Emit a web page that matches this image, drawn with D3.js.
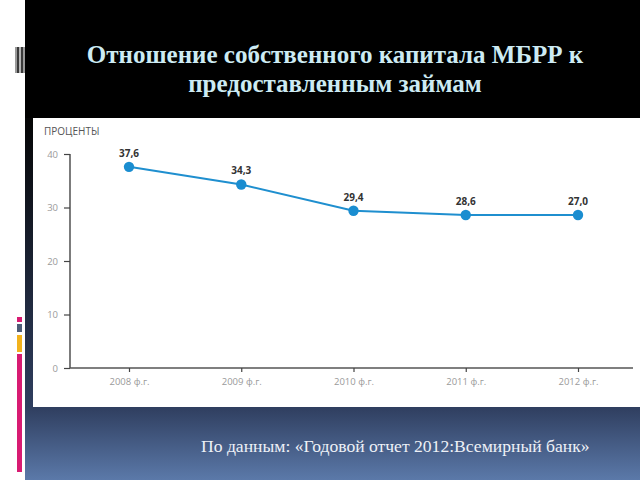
<!DOCTYPE html>
<html>
<head>
<meta charset="utf-8">
<script src="https://cdn.jsdelivr.net/npm/d3@7"></script>
<style>
  body { margin: 0; background: #fff; }
  svg { display: block; }
</style>
</head>
<body>
<div id="viz-container"></div>
<script>
let width = 640;
let height = 480;

// data (the last point is drawn at the 2011 level in the source)
let years = ['2008 ф.г.', '2009 ф.г.', '2010 ф.г.', '2011 ф.г.', '2012 ф.г.'];
let ratio = [37.6, 34.3, 29.4, 28.6, 28.6];
let ratioLabels = ['37,6', '34,3', '29,4', '28,6', '27,0'];
let yTicks = [0, 10, 20, 30, 40];
let titleLines = ['Отношение собственного капитала МБРР к', 'предоставленным займам'];
let sourceText = 'По данным: «Годовой отчет 2012:Всемирный банк»';
let unitText = 'ПРОЦЕНТЫ';

let viz = d3.select('#viz-container')
  .append('svg')
  .attr('width', width)
  .attr('height', height);

let defs = viz.append('defs');
let bottomGrad = defs.append('linearGradient')
  .attr('id', 'bottomGrad').attr('x1', 0).attr('y1', 0).attr('x2', 0).attr('y2', 1);
bottomGrad.append('stop').attr('offset', '0%').attr('stop-color', '#2f3e5f');
bottomGrad.append('stop').attr('offset', '100%').attr('stop-color', '#5b79a9');
let sideGrad = defs.append('linearGradient')
  .attr('id', 'sideGrad').attr('x1', 0).attr('y1', 0).attr('x2', 0).attr('y2', 1);
sideGrad.append('stop').attr('offset', '0%').attr('stop-color', '#050505');
sideGrad.append('stop').attr('offset', '100%').attr('stop-color', '#2f3e5f');

// slide background
viz.append('rect').attr('x', 0).attr('y', 0).attr('width', width).attr('height', height).attr('fill', '#fff');
viz.append('rect').attr('x', 25).attr('y', 0).attr('width', 615).attr('height', 118).attr('fill', '#000');
viz.append('rect').attr('x', 25).attr('y', 118).attr('width', 8).attr('height', 289).attr('fill', 'url(#sideGrad)');
viz.append('rect').attr('x', 25).attr('y', 407).attr('width', 615).attr('height', 73).attr('fill', 'url(#bottomGrad)');
viz.append('rect').attr('x', 33).attr('y', 118).attr('width', 607).attr('height', 289).attr('fill', '#fff');

// little decorations on the left edge
let stripes = ['#9a9a9a', '#3a3a3a', '#b5b5b5', '#3a3a3a', '#9a9a9a'];
viz.selectAll('.stripe').data(stripes).enter()
  .append('rect')
  .attr('class', 'stripe')
  .attr('x', (d, i) => 15 + i * 2)
  .attr('y', 47)
  .attr('width', 2)
  .attr('height', 26)
  .attr('fill', d => d);

let sideBars = [
  {y: 317, h: 5, c: '#d81b72'},
  {y: 324, h: 8, c: '#4e5d78'},
  {y: 335, h: 17, c: '#f2b21c'},
  {y: 354, h: 118, c: '#d81b72'}
];
viz.selectAll('.sideBar').data(sideBars).enter()
  .append('rect')
  .attr('class', 'sideBar')
  .attr('x', 17)
  .attr('y', d => d.y)
  .attr('width', 5)
  .attr('height', d => d.h)
  .attr('fill', d => d.c);

// title
viz.selectAll('.title').data(titleLines).enter()
  .append('text')
  .attr('class', 'title')
  .attr('x', 335)
  .attr('y', (d, i) => 63 + i * 29)
  .attr('text-anchor', 'middle')
  .attr('font-family', 'Liberation Serif')
  .attr('font-weight', 'bold')
  .attr('font-size', 25)
  .attr('fill', '#cdebf3')
  .text(d => d);

// source
viz.append('text')
  .attr('x', 201)
  .attr('y', 452)
  .attr('font-family', 'Liberation Serif')
  .attr('font-size', 17.6)
  .attr('fill', '#eef1f7')
  .text(sourceText);

// chart
let xScale = d3.scalePoint().domain(years).range([129, 578]);
let yScale = d3.scaleLinear().domain([0, 40]).range([368, 154]);

viz.append('text')
  .attr('x', 44)
  .attr('y', 135)
  .attr('font-family', 'Open Sans')
  .attr('font-size', 10)
  .attr('fill', '#555')
  .text(unitText);

let yAxis = viz.append('g')
  .attr('transform', 'translate(70,0)')
  .call(d3.axisLeft(yScale).tickValues(yTicks).tickSize(6).tickPadding(6));
yAxis.select('.domain').attr('stroke', '#444').attr('stroke-width', 1.4).attr('d', 'M0,' + yScale(40) + 'V' + yScale(0));
yAxis.selectAll('.tick line').attr('stroke', '#444').attr('stroke-width', 1.2);
yAxis.selectAll('.tick text')
  .attr('fill', '#9a9a9a')
  .attr('font-family', 'Open Sans')
  .attr('font-size', 9.5);

let xAxis = viz.append('g')
  .attr('transform', 'translate(0,368)')
  .call(d3.axisBottom(xScale).tickSize(4).tickPadding(6));
xAxis.select('.domain').attr('stroke', '#555').attr('stroke-width', 1.4).attr('d', 'M70,0H633');
xAxis.selectAll('.tick line').attr('stroke', '#444').attr('stroke-width', 1.2);
xAxis.selectAll('.tick text')
  .attr('fill', '#9a9a9a')
  .attr('font-family', 'Open Sans')
  .attr('font-size', 9.5);

let line = d3.line()
  .x((d, i) => xScale(years[i]))
  .y(d => yScale(d));

viz.append('path')
  .datum(ratio)
  .attr('d', line)
  .attr('fill', 'none')
  .attr('stroke', '#1f8fcf')
  .attr('stroke-width', 2);

viz.selectAll('.dot').data(ratio).enter()
  .append('circle')
  .attr('class', 'dot')
  .attr('cx', (d, i) => xScale(years[i]))
  .attr('cy', d => yScale(d))
  .attr('r', 5.2)
  .attr('fill', '#1a8dd0');

viz.selectAll('.valueText').data(ratio).enter()
  .append('text')
  .attr('class', 'valueText')
  .attr('x', (d, i) => xScale(years[i]))
  .attr('y', d => yScale(d) - 10)
  .attr('text-anchor', 'middle')
  .attr('font-family', 'Open Sans')
  .attr('font-weight', 'bold')
  .attr('font-size', 10)
  .attr('fill', '#333')
  .text((d, i) => ratioLabels[i]);
</script>
</body>
</html>
